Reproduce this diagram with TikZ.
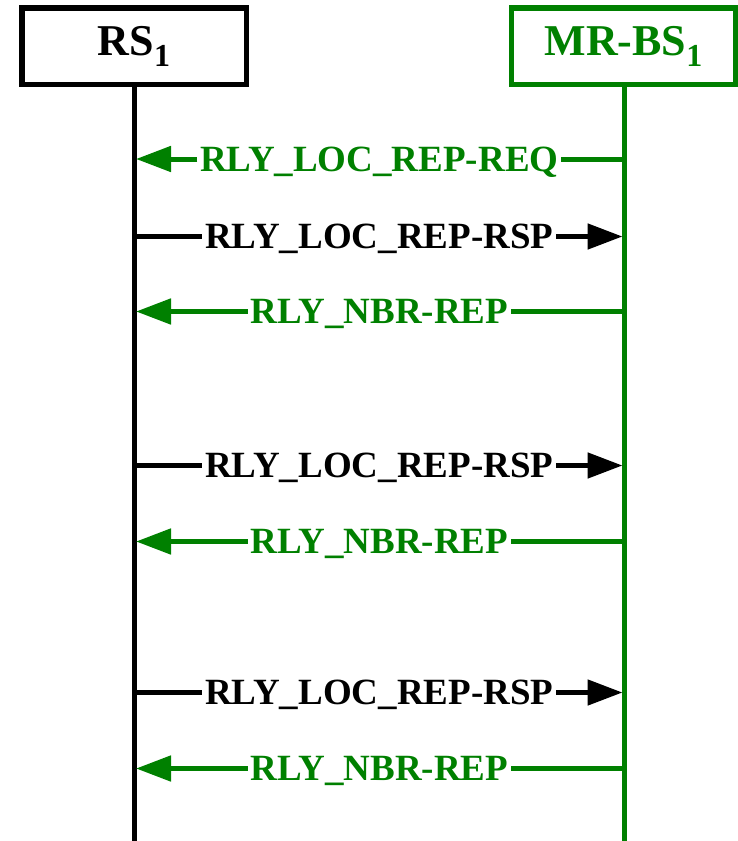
\documentclass[tikz,border=0pt]{standalone}
\usepackage{fontspec}
\setmainfont{Liberation Serif}
\usetikzlibrary{arrows.meta}
\definecolor{bsgreen}{RGB}{0,128,0}
\tikzset{
  hdr/.style={draw, line width=5.5pt, minimum width=224.5pt, minimum height=76.5pt,
    inner sep=0pt, fill=white, font=\fontsize{44}{44}\selectfont\bfseries},
  life/.style={line width=5pt},
  msgline/.style={line width=5pt},
  tip/.style={-{Triangle[length=35pt,width=25pt]}},
  lbl/.style={inner xsep=2.5pt, inner ysep=0pt, text height=24.5pt, text depth=0pt,
    font=\fontsize{37}{37}\selectfont\bfseries},
}
\newcommand{\subone}{\raisebox{-11pt}{\fontsize{32}{32}\selectfont 1}}
\begin{document}
\begin{tikzpicture}[x=1pt,y=-1pt]
\useasboundingbox (0,0) rectangle (738,841);
% lifelines
\coordinate (rsbot) at (134,841);
\coordinate (bsbot) at (624.5,841);
\coordinate (rstop) at (134,84);
\coordinate (bstop) at (624.5,84);
\draw[life] (rstop) -- (rsbot);
\draw[life, bsgreen] (bstop) -- (bsbot);
% headers
\node[hdr] (rs) at (134,46) {RS\subone};
\node[hdr, draw=bsgreen, text=bsgreen] (bs) at (623.5,46) {MR-BS\subone};
% messages
\foreach \i/\y/\kind in {1/159/req, 2/236.5/rsp, 3/311.5/nbr, 4/465.5/rsp, 5/541.5/nbr, 6/692.5/rsp, 7/768.5/nbr}{
  \coordinate (a\i) at (136,\y);
  \coordinate (b\i) at (622.5,\y);
}
% 1: REQ (BS -> RS)
\node[lbl, text=bsgreen] (m1) at (379.25,159) {RLY\_LOC\_REP-REQ};
\draw[msgline, bsgreen] (b1) -- (m1.east);
\draw[msgline, bsgreen, tip] (m1.west) -- (a1);
% 2: RSP (RS -> BS)
\node[lbl] (m2) at (379.25,236.5) {RLY\_LOC\_REP-RSP};
\draw[msgline] (a2) -- (m2.west);
\draw[msgline, tip] (m2.east) -- (b2);
% 3: NBR
\node[lbl, text=bsgreen] (m3) at (379.25,311.5) {RLY\_NBR-REP};
\draw[msgline, bsgreen] (b3) -- (m3.east);
\draw[msgline, bsgreen, tip] (m3.west) -- (a3);
% 4: RSP
\node[lbl] (m4) at (379.25,465.5) {RLY\_LOC\_REP-RSP};
\draw[msgline] (a4) -- (m4.west);
\draw[msgline, tip] (m4.east) -- (b4);
% 5: NBR
\node[lbl, text=bsgreen] (m5) at (379.25,541.5) {RLY\_NBR-REP};
\draw[msgline, bsgreen] (b5) -- (m5.east);
\draw[msgline, bsgreen, tip] (m5.west) -- (a5);
% 6: RSP
\node[lbl] (m6) at (379.25,692.5) {RLY\_LOC\_REP-RSP};
\draw[msgline] (a6) -- (m6.west);
\draw[msgline, tip] (m6.east) -- (b6);
% 7: NBR
\node[lbl, text=bsgreen] (m7) at (379.25,768.5) {RLY\_NBR-REP};
\draw[msgline, bsgreen] (b7) -- (m7.east);
\draw[msgline, bsgreen, tip] (m7.west) -- (a7);
\end{tikzpicture}
\end{document}
